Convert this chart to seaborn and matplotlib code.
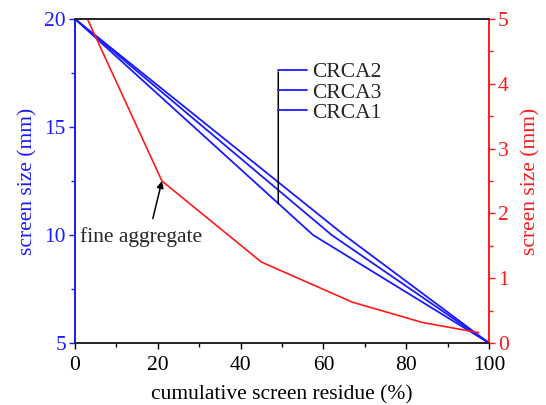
import matplotlib
matplotlib.use("Agg")
import matplotlib.pyplot as plt
import seaborn as sns
import pandas as pd
from matplotlib.ticker import MultipleLocator
from matplotlib.lines import Line2D

# ---- data ----
crca2_x = [0, 65, 100]
crca2_y = [20, 10, 5]
crca3_x = [0, 62, 100]
crca3_y = [20, 10, 5]
crca1_x = [0, 57.5, 100]
crca1_y = [20, 10, 5]
fine_x = [3, 21, 45, 67, 84, 97.5]
fine_y = [5, 2.5, 1.25, 0.63, 0.315, 0.16]
series_names = ["CRCA2", "CRCA3", "CRCA1"]

sns.set_style("ticks")
plt.rcParams["font.family"] = ["Liberation Serif", "DejaVu Serif"]
plt.rcParams["xtick.direction"] = "out"
plt.rcParams["ytick.direction"] = "out"

BLUE = "#1a1aff"
RED = "#ff1a1a"
FS = 15.5

fig = plt.figure(figsize=(5.46, 4.05), dpi=100)
ax = fig.add_axes([75/546, 1-343/405, (489-75)/546, (343-19)/405])
ax2 = ax.twinx()

coarse = [(crca2_x, crca2_y), (crca3_x, crca3_y), (crca1_x, crca1_y)]
for name, (xs, ys) in zip(series_names, coarse):
    df = pd.DataFrame({"x": xs, "y": ys})
    sns.lineplot(data=df, x="x", y="y", ax=ax, sort=False, color=BLUE,
                 lw=1.3, estimator=None, legend=False)

df_f = pd.DataFrame({"x": fine_x, "y": fine_y})
sns.lineplot(data=df_f, x="x", y="y", ax=ax2, sort=False, color=RED,
             lw=1.2, estimator=None, legend=False)

ax.set_xlim(0, 100)
ax.set_ylim(5, 20)
ax2.set_ylim(0, 5)

ax.xaxis.set_major_locator(MultipleLocator(20))
ax.xaxis.set_minor_locator(MultipleLocator(10))
ax.yaxis.set_major_locator(MultipleLocator(5))
ax.yaxis.set_minor_locator(MultipleLocator(2.5))
ax2.yaxis.set_major_locator(MultipleLocator(1))
ax2.yaxis.set_minor_locator(MultipleLocator(0.5))

ax.set_xlabel("cumulative screen residue (%)", fontsize=FS, color="black", labelpad=7)
ax.set_ylabel("screen size (mm)", fontsize=FS, color=BLUE, labelpad=5)
ax2.set_ylabel("screen size (mm)", fontsize=FS, color=RED, labelpad=9)

ax.tick_params(axis="x", which="major", length=4.5, width=1.0, colors="black", labelsize=FS, pad=5)
ax.tick_params(axis="x", which="minor", length=3, width=1.0, colors="black")
ax.tick_params(axis="y", which="major", length=4.5, width=1.0, colors=BLUE, labelsize=FS, pad=2)
ax.tick_params(axis="y", which="minor", length=3, width=1.0, colors=BLUE)
ax2.tick_params(axis="y", which="major", length=4.5, width=1.0, colors=RED, labelsize=FS, pad=2)
ax2.tick_params(axis="y", which="minor", length=3, width=1.0, colors=RED)

for a in (ax, ax2):
    a.spines["top"].set_color("#222222")
    a.spines["bottom"].set_color("#222222")
    a.spines["left"].set_color(BLUE)
    a.spines["right"].set_color(RED)
    for s in a.spines.values():
        s.set_linewidth(1.2)
    a.spines["top"].set_visible(True)
    a.spines["right"].set_visible(True)

# legend
handles = [Line2D([], [], color=BLUE, lw=1.3) for _ in series_names]
leg = ax.legend(handles, series_names, loc="upper left",
                bbox_to_anchor=(0.490, 0.866), frameon=False, fontsize=15.5,
                handlelength=1.35, handletextpad=0.25, labelspacing=0.0,
                borderpad=0, borderaxespad=0)

# leader line from legend to curves
ax.annotate("", xy=(49.1, 11.45), xytext=(49.1, 17.55),
            arrowprops=dict(arrowstyle="-", color="black", lw=1.1,
                            shrinkA=0, shrinkB=0))

# fine aggregate annotation
ax2.text(15.9, 1.64, "fine aggregate", fontsize=FS, ha="center", va="center")
ax2.annotate("", xy=(21, 2.5), xytext=(18.8, 1.92),
             arrowprops=dict(arrowstyle="-|>", color="black", lw=1.1,
                             mutation_scale=10, shrinkA=0, shrinkB=0))

fig.savefig("out.png", dpi=100)
